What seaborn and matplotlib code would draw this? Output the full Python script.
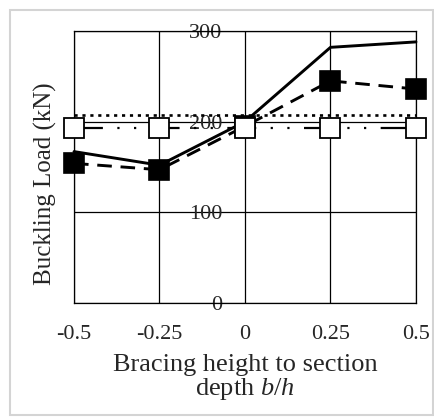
import matplotlib
matplotlib.use("Agg")
import matplotlib.pyplot as plt
import seaborn as sns
from matplotlib.patches import Rectangle

# values
bracing = [-0.5, -0.25, 0, 0.25, 0.5]
solid_load = [167, 152, 200, 282, 288]
dashed_load = [154, 147, 195, 245, 236]
dotted_load = [207, 207, 207, 207, 207]
dashdot_load = [193, 193, 193, 193, 193]
x_ticks = [-0.5, -0.25, 0, 0.25, 0.5]
x_tick_labels = ["-0.5", "-0.25", "0", "0.25", "0.5"]
y_ticks = [0, 100, 200, 300]

sns.set_style("white")
plt.rcParams["font.family"] = ["Liberation Serif", "DejaVu Serif"]
plt.rcParams["mathtext.fontset"] = "custom"
plt.rcParams["mathtext.rm"] = "Liberation Serif"
plt.rcParams["mathtext.it"] = "Liberation Serif:italic"

fig = plt.figure(figsize=(4.35, 4.18), dpi=100)
ax = fig.add_axes([0.1701, 0.2751, 0.7862, 0.6507])

# solid line
sns.lineplot(x=bracing, y=solid_load, color="black", lw=2.1, ax=ax, clip_on=False, zorder=3)
# dashed line, black squares
sns.lineplot(x=bracing, y=dashed_load, color="black", lw=2.1, linestyle=(0, (5, 3)),
             marker="s", markersize=14.4, markerfacecolor="black", markeredgecolor="black",
             markeredgewidth=1.2, ax=ax, clip_on=False, zorder=4)
# dotted line
sns.lineplot(x=bracing, y=dotted_load, color="black", lw=1.9, linestyle=(0, (1.2, 1.8)),
             ax=ax, clip_on=False, zorder=5)
# dash-dot-dot line, white squares
sns.lineplot(x=bracing, y=dashdot_load, color="black", lw=1.6,
             linestyle=(0, (13, 6.5, 1, 6.5, 1, 6.5)),
             marker="s", markersize=14, markerfacecolor="white", markeredgecolor="black",
             markeredgewidth=1.3, ax=ax, clip_on=False, zorder=6)

ax.set_xlim(-0.5, 0.5)
ax.set_ylim(0, 300)
ax.set_xticks(x_ticks)
ax.set_xticklabels(x_tick_labels)
ax.set_yticks(y_ticks)
ax.grid(True, color="black", lw=0.9)
ax.set_axisbelow(True)
for s in ax.spines.values():
    s.set_color("black")
    s.set_linewidth(0.9)

ax.tick_params(axis="x", length=0, pad=16, labelsize=16)
ax.tick_params(axis="y", length=0, pad=-106.6, labelsize=16)

ax.set_xlabel("Bracing height to section\ndepth $b/h$", fontsize=19, linespacing=1.0, labelpad=7)
ax.set_ylabel("Buckling Load (kN)", fontsize=18)
ax.yaxis.set_label_coords(-0.05, 0.44)

fig.patches.append(Rectangle((0.023, 0.007), 0.972, 0.969, transform=fig.transFigure,
                             fill=False, edgecolor="#d4d4d4", lw=1.5))

plt.savefig("out.png", dpi=100)
